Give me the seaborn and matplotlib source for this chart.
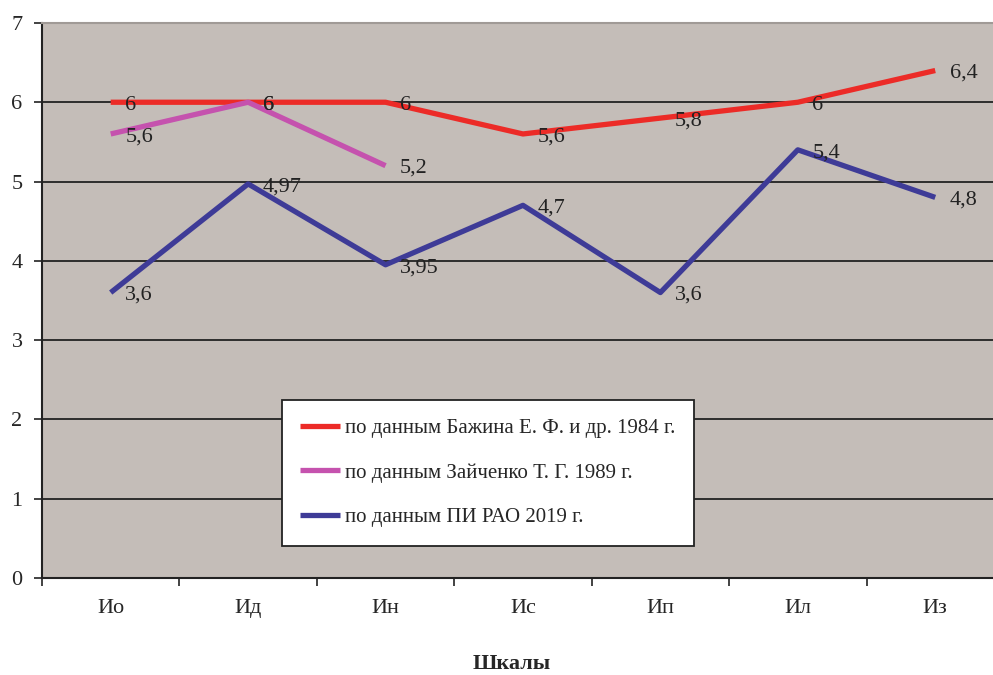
import matplotlib
matplotlib.use("Agg")
import matplotlib.pyplot as plt
import seaborn as sns
import pandas as pd
import numpy as np
from matplotlib.ticker import FixedLocator

categories = ["Ио", "Ид", "Ин", "Ис", "Ип", "Ил", "Из"]
bazhin = [6, 6, 6, 5.6, 5.8, 6, 6.4]
zaychenko = [5.6, 6, 5.2]
pirao = [3.6, 4.97, 3.95, 4.7, 3.6, 5.4, 4.8]
series_names = ["по данным Бажина Е. Ф. и др. 1984 г.",
                "по данным Зайченко Т. Г. 1989 г.",
                "по данным ПИ РАО 2019 г."]
colors = ["#EC2B27", "#C552AE", "#3E3B97"]
y_ticks = [0, 1, 2, 3, 4, 5, 6, 7]

sns.set_style("white")
plt.rcParams['font.family'] = ['Liberation Serif', 'DejaVu Serif']

fig = plt.figure(figsize=(9.93, 6.75), dpi=100)
ax = fig.add_axes([0.0423, 0.1437, 1.011 - 0.0423, 0.966 - 0.1437])
ax.set_facecolor("#C4BDB8")

for vals, name, col in zip([bazhin, zaychenko, pirao], series_names, colors):
    df = pd.DataFrame({"x": np.arange(len(vals)), "y": vals})
    sns.lineplot(data=df, x="x", y="y", ax=ax, color=col, linewidth=3.8,
                 label=name, solid_capstyle="butt")
    for xi, yi in zip(df["x"], df["y"]):
        txt = f"{yi:g}".replace(".", ",")
        ax.annotate(txt, (xi, yi), xytext=(10.5, -2), textcoords="offset points",
                    ha="left", va="center", fontsize=16, color="#222222")

ax.set_xlim(-0.5, 6.5)
ax.set_ylim(0, 7)
ax.set_yticks(y_ticks)
ax.set_yticklabels([str(v) for v in y_ticks], fontsize=16)
ax.set_xticks(np.arange(len(categories)))
ax.set_xticklabels(categories, fontsize=16)
ax.xaxis.set_minor_locator(FixedLocator(np.arange(-0.5, 7, 1.0)))
ax.tick_params(axis="x", which="major", length=0, pad=15)
ax.tick_params(axis="x", which="minor", length=6, width=1.2, color="#222222", direction="out", bottom=True)
ax.tick_params(axis="y", length=6, width=1.2, color="#222222", direction="out", left=True, pad=8)

for v in y_ticks[1:-1]:
    ax.axhline(v, color="#222222", linewidth=1.3, zorder=1)

for s in ["left", "bottom"]:
    ax.spines[s].set_color("#222222")
    ax.spines[s].set_linewidth(1.5)
ax.spines["top"].set_color("#A09A96")
ax.spines["top"].set_linewidth(1.5)
ax.spines["right"].set_visible(False)

ax.set_xlabel("")
ax.set_ylabel("")
fig.text(0.515, 0.016, "Шкалы", ha="center", va="center", fontsize=16, fontweight="bold")

leg = ax.legend(loc="upper left", bbox_to_anchor=(0.249, 0.321), frameon=True,
                fancybox=False, fontsize=15, handlelength=1.9, handletextpad=0.25,
                labelspacing=1.2, borderpad=0.9, borderaxespad=0)
leg.get_frame().set_edgecolor("#222222")
leg.get_frame().set_linewidth(1.3)
leg.get_frame().set_facecolor("white")
leg.get_frame().set_alpha(1)

fig.savefig("out.png", dpi=100)
